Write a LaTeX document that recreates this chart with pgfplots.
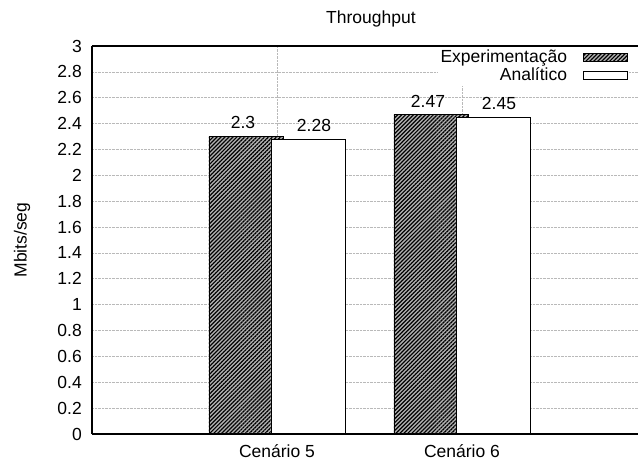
\documentclass[border=0pt]{standalone}
\usepackage{fontspec}
\setmainfont{Liberation Sans}
\usepackage{pgfplots}
\pgfplotsset{compat=1.18}
\usetikzlibrary{patterns.meta,calc}
\pgfplotsset{mylegend/.style={legend image code/.code={\draw[##1, bar shift=0pt] (0bp,-4bp) rectangle (44bp,4bp);}}}
\begin{document}
\fontsize{17.5bp}{21bp}\selectfont
\begin{tikzpicture}
\begin{axis}[
  name=ax,
  scale only axis,
  width=546bp, height=388bp,
  xmin=0, xmax=2.9514,
  ymin=0, ymax=3,
  axis x line*=box, axis y line*=left,
  axis line style={-, black, line width=1.2bp},
  /pgf/number format/assume math mode=true,
  ytick={0,0.2,0.4,0.6,0.8,1,1.2,1.4,1.6,1.8,2,2.2,2.4,2.6,2.8,3},
  yticklabel style={/pgf/number format/fixed, inner sep=0pt, xshift=-10bp},
  xtick={1,2},
  xticklabels={Cenário 5, Cenário 6},
  xticklabel style={inner sep=0pt, yshift=-10bp},
  major tick length=0pt,
  grid=major,
  grid style={gray!55, densely dotted, line width=0.6bp},
  ybar,
  bar width=74bp,
  nodes near coords,
  every node near coord/.append style={anchor=south, inner sep=0pt, yshift=7bp, black},
  title=Throughput,
  title style={at={(0.5,1)}, anchor=center, yshift=21bp, xshift=6bp},
  ylabel={Mbits/seg},
  every axis y label/.style={at={(axis description cs:0,0.5)}, xshift=-70bp, rotate=90, anchor=center},
  legend plot pos=right,
  legend cell align=right,
  legend style={draw=none, fill=white, at={(1,1)}, anchor=north east, xshift=-9bp, yshift=-1bp, inner sep=1bp, row sep=-2bp, column sep=14bp},
]
\addplot[draw=black, line width=0.8bp, fill=gray!60, postaction={pattern={Lines[angle=45, distance=2.8bp, line width=1.2bp]}, pattern color=black}, bar shift=-31bp, every node near coord/.append style={xshift=-3bp}, mylegend]
  coordinates {(1,2.3) (2,2.47)};
\addlegendentry{Experimentação}
\addplot[draw=black, line width=0.8bp, fill=white, bar shift=31bp, every node near coord/.append style={xshift=6bp}, mylegend]
  coordinates {(1,2.28) (2,2.45)};
\addlegendentry{Analítico}
\draw[black, line width=1.2bp] (rel axis cs:0,0) -- (rel axis cs:1,0);
\end{axis}
\pgfresetboundingbox
\useasboundingbox ($(ax.south west)+(-92bp,-27bp)$) rectangle ($(ax.north east)+(0bp,46bp)$);
\end{tikzpicture}
\end{document}
